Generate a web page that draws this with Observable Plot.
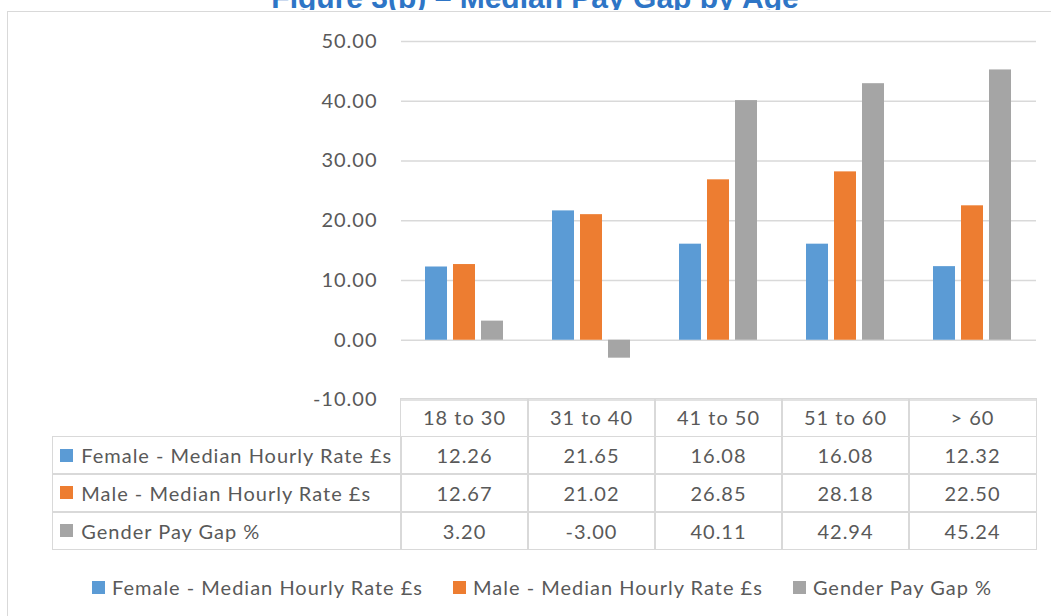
<!DOCTYPE html>
<html><head><meta charset="utf-8">
<script src="https://cdn.jsdelivr.net/npm/d3@7"></script>
<script src="https://cdn.jsdelivr.net/npm/@observablehq/plot@0.6"></script>
<style>
html,body{margin:0;padding:0;background:#fff;}
#wrap{position:relative;width:1051px;height:616px;overflow:hidden;background:#fff;font-family:Lato,"Open Sans",sans-serif;color:#595959;}
#frame{position:absolute;left:7px;top:11px;width:1200px;height:800px;border:1.5px solid #d9d9d9;box-sizing:border-box;}
#titleclip{position:absolute;left:0;top:0;width:1051px;height:10px;overflow:hidden;}
#title{position:absolute;left:0;width:1070px;text-align:center;top:-17px;font:bold 30px "Liberation Sans",Arial,sans-serif;color:#2e75c6;line-height:30px;white-space:nowrap;}
#chart{position:absolute;left:0;top:0;}
.cell{position:absolute;box-sizing:border-box;border:1.5px solid #d9d9d9;display:flex;align-items:center;justify-content:center;font-size:20px;letter-spacing:1px;white-space:nowrap;}
.lab{justify-content:flex-start;padding-left:7px;}
.sw{display:inline-block;width:13px;height:13px;margin-right:8px;flex:none;}
#legend{position:absolute;left:92px;top:575px;height:24px;display:flex;align-items:center;font-size:20px;letter-spacing:1px;white-space:nowrap;}
#legend .item{display:flex;align-items:center;margin-right:30px;}
#legend .sw{margin-right:7px;}
</style></head>
<body>
<div id="wrap">
  <div id="frame"></div>
  <div id="titleclip"><div id="title"></div></div>
  <div id="chart"></div>
  <div id="table"></div>
  <div id="legend"></div>
</div>
<script>
const titleText = "Figure 3(b) \u2013 Median Pay Gap by Age";
const ages = ["18 to 30", "31 to 40", "41 to 50", "51 to 60", "> 60"];
const seriesNames = ["Female - Median Hourly Rate \u00a3s", "Male - Median Hourly Rate \u00a3s", "Gender Pay Gap %"];
const female = [12.26, 21.65, 16.08, 16.08, 12.32];
const male = [12.67, 21.02, 26.85, 28.18, 22.50];
const gap = [3.20, -3.00, 40.11, 42.94, 45.24];
const colors = ["#5B9BD5", "#ED7D31", "#A5A5A5"];
const yTicks = [-10, 0, 10, 20, 30, 40, 50];

document.getElementById("title").textContent = titleText;

const seriesValues = [female, male, gap];
const rows = [];
seriesNames.forEach((s, i) => ages.forEach((a, j) => rows.push({age: a, series: s, value: seriesValues[i][j]})));

const chart = Plot.plot({
  width: 1051, height: 400,
  marginLeft: 400, marginRight: 15, marginTop: 41, marginBottom: 0.5,
  style: {fontFamily: "Lato, 'Open Sans', sans-serif", fontSize: "20px", letterSpacing: "1px", color: "#595959", background: "transparent", overflow: "visible"},
  fx: {domain: ages, padding: 0, axis: null},
  x: {domain: seriesNames, paddingInner: 0.207, paddingOuter: 0.797, axis: null},
  y: {domain: [-10, 50], ticks: yTicks, tickFormat: d => d.toFixed(2), tickSize: 0, tickPadding: 24, label: null},
  color: {domain: seriesNames, range: colors},
  marks: [
    Plot.gridY(yTicks, {stroke: "#d9d9d9", strokeWidth: 1.5, strokeOpacity: 1}),
    Plot.barY(rows, {fx: "age", x: "series", y: "value", fill: "series"})
  ]
});
document.getElementById("chart").appendChild(chart);

// data table aligned with the plot's fx scale
const fxS = chart.scale("fx");
const r0 = fxS.range[0], r1 = fxS.range[1];
const step = (r1 - r0) / ages.length;
const colX = a => (fxS.apply ? fxS.apply(a) : r0 + ages.indexOf(a) * step);
const bw = fxS.bandwidth || step;
const table = document.getElementById("table");
const top0 = 398.5, rowH = 37.75, labX = 53;
function cell(x, y, w, h, html, cls) {
  const d = document.createElement("div");
  d.className = "cell" + (cls ? " " + cls : "");
  d.style.left = (x - 0.75) + "px"; d.style.top = (y - 0.75) + "px";
  d.style.width = (w + 1.5) + "px"; d.style.height = (h + 1.5) + "px";
  d.innerHTML = html;
  table.appendChild(d);
}
ages.forEach(a => cell(colX(a), top0, bw, rowH, a));
seriesNames.forEach((s, i) => {
  const y = top0 + rowH * (i + 1);
  cell(labX, y, colX(ages[0]) - labX, rowH, `<span class="sw" style="background:${colors[i]}"></span><span>${s}</span>`, "lab");
  ages.forEach((a, j) => cell(colX(a), y, bw, rowH, seriesValues[i][j].toFixed(2)));
});

// legend
const legend = document.getElementById("legend");
seriesNames.forEach((s, i) => {
  const it = document.createElement("div");
  it.className = "item";
  it.innerHTML = `<span class="sw" style="background:${colors[i]}"></span><span>${s}</span>`;
  legend.appendChild(it);
});
</script>
</body></html>
